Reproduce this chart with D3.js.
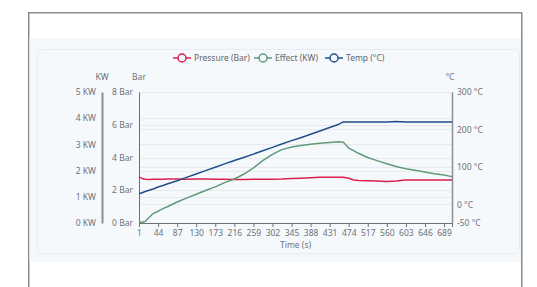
<!DOCTYPE html>
<html>
<head>
<meta charset="utf-8">
<script src="https://cdn.jsdelivr.net/npm/d3@7"></script>
<style>
  body { margin: 0; background: #fff; }
  svg { display: block; font-family: "Noto Sans", sans-serif; }
</style>
</head>
<body>
<svg id="chart" width="537" height="287"></svg>
<script>
const times = [1, 8, 15, 22, 33, 44, 55, 66, 87, 108, 130, 151, 173, 194, 216, 237, 259, 280, 302, 323,
  345, 366, 388, 409, 431, 452, 462, 474, 485, 496, 517, 538, 560, 581, 603, 624, 646, 667, 689, 707];
const pressure = [2.82, 2.72, 2.67, 2.66, 2.67, 2.67, 2.67, 2.68, 2.68, 2.67, 2.68, 2.68, 2.67, 2.67, 2.66, 2.66, 2.67, 2.67, 2.67, 2.68,
  2.71, 2.74, 2.77, 2.79, 2.79, 2.79, 2.79, 2.73, 2.63, 2.6, 2.58, 2.56, 2.54, 2.57, 2.62, 2.63, 2.63, 2.63, 2.63, 2.63];
const effect = [0.04, 0.03, 0.06, 0.18, 0.36, 0.45, 0.55, 0.63, 0.8, 0.95, 1.1, 1.24, 1.38, 1.54, 1.68, 1.86, 2.1, 2.38, 2.62, 2.8,
  2.9, 2.96, 3.01, 3.04, 3.07, 3.1, 3.08, 2.86, 2.76, 2.66, 2.5, 2.38, 2.26, 2.16, 2.07, 2.01, 1.95, 1.88, 1.83, 1.77];
const temp = [28, 31, 34, 37, 41, 46, 50, 55, 63, 72, 81, 90, 99, 108, 117, 125, 134, 143, 152, 161,
  170, 178, 187, 196, 205, 214, 220, 220, 220, 220, 220, 220, 220, 221, 220, 220, 220, 220, 220, 220];

const xLabels = [1, 44, 87, 130, 173, 216, 259, 302, 345, 388, 431, 474, 517, 560, 603, 646, 689];
const barTicks = [0, 2, 4, 6, 8];
const kwTicks = [0, 1, 2, 3, 4, 5];
const tempTicks = [-50, 0, 100, 200, 300];
const seriesNames = ["Pressure (Bar)", "Effect (KW)", "Temp (°C)"];
const seriesColors = ["#dc1f4e", "#5f9a78", "#1e4f8c"];

const svg = d3.select("#chart");
const plotLeft = 139, plotRight = 452, plotTop = 92, plotBottom = 223;

// frame and panels
svg.append("rect").attr("x", 28.75).attr("y", 12.75).attr("width", 493).attr("height", 290)
  .attr("fill", "#fff").attr("stroke", "#8a8a8a").attr("stroke-width", 1.5);
svg.append("rect").attr("x", 29.5).attr("y", 38).attr("width", 491.5).attr("height", 224).attr("fill", "#f5f8fb");
svg.append("rect").attr("x", 37.5).attr("y", 49.5).attr("width", 482).attr("height", 204).attr("rx", 5)
  .attr("fill", "#f6f9fc").attr("stroke", "#e8edf2");

const x = d3.scaleLinear().domain([1, 707]).range([plotLeft, plotRight]);
const yBar = d3.scaleLinear().domain([0, 8]).range([plotBottom, plotTop]);
const yKw = d3.scaleLinear().domain([0, 5]).range([plotBottom, plotTop]);
const yTemp = d3.scaleLinear().domain([-50, 300]).range([plotBottom, plotTop]);

// grid lines for all three axes
const grid = svg.append("g").attr("stroke", "#e6eaf0").attr("stroke-width", 1);
[[barTicks, yBar], [kwTicks, yKw], [tempTicks, yTemp]].forEach(([ticks, s]) => {
  grid.selectAll(null).data(ticks).enter().append("line")
    .attr("x1", plotLeft).attr("x2", plotRight)
    .attr("y1", d => Math.round(s(d)) + 0.5).attr("y2", d => Math.round(s(d)) + 0.5);
});

const labelColor = "#6e7079";
function styleAxis(g, color, width) {
  g.select(".domain").attr("stroke", color).attr("stroke-width", width);
  g.selectAll(".tick line").remove();
  g.selectAll("text").attr("fill", labelColor).style("font-size", "8.5px").style("font-family", "Noto Sans, sans-serif");
}

const axBar = svg.append("g").attr("transform", `translate(${plotLeft},0)`)
  .call(d3.axisLeft(yBar).tickValues(barTicks).tickFormat(d => d + " Bar").tickSize(0).tickPadding(6));
styleAxis(axBar, "#6e7079", 1);

const axKw = svg.append("g").attr("transform", `translate(102,0)`)
  .call(d3.axisLeft(yKw).tickValues(kwTicks).tickFormat(d => d + " KW").tickSize(0).tickPadding(6));
styleAxis(axKw, "#8a8d94", 2);

const axTemp = svg.append("g").attr("transform", `translate(${plotRight},0)`)
  .call(d3.axisRight(yTemp).tickValues(tempTicks).tickFormat(d => d + " °C").tickSize(0).tickPadding(5));
styleAxis(axTemp, "#8a8d94", 1.5);

const axX = svg.append("g").attr("transform", `translate(0,${plotBottom})`)
  .call(d3.axisBottom(x).tickValues(xLabels).tickFormat(d => d).tickSizeOuter(0).tickSize(4).tickPadding(3));
axX.select(".domain").attr("stroke", "#6e7079");
axX.selectAll(".tick line").attr("stroke", "#6e7079");
axX.selectAll("text").attr("fill", labelColor).style("font-size", "8.5px").style("font-family", "Noto Sans, sans-serif");

// axis names
const nameStyle = s => s.attr("fill", labelColor).style("font-size", "8.5px").attr("text-anchor", "middle");
svg.append("text").attr("x", 102).attr("y", 80).text("KW").call(nameStyle);
svg.append("text").attr("x", 139).attr("y", 80).text("Bar").call(nameStyle);
svg.append("text").attr("x", 450).attr("y", 80).text("°C").call(nameStyle);
svg.append("text").attr("x", (plotLeft + plotRight) / 2).attr("y", 248).text("Time (s)").call(nameStyle);

// lines
const series = [
  { values: pressure, scale: yBar },
  { values: effect, scale: yKw },
  { values: temp, scale: yTemp }
];
series.forEach((s, i) => {
  const line = d3.line().x((d, j) => x(times[j])).y(d => s.scale(d));
  svg.append("path").datum(s.values).attr("d", line)
    .attr("fill", "none").attr("stroke", seriesColors[i]).attr("stroke-width", 1.5)
    .attr("stroke-linejoin", "round");
});

// legend
const legendX = [182, 263, 334];
const legend = svg.append("g");
seriesNames.forEach((name, i) => {
  const g = legend.append("g").attr("transform", `translate(${legendX[i]},58)`);
  g.append("line").attr("x1", -9).attr("x2", 9).attr("stroke", seriesColors[i]).attr("stroke-width", 1.5);
  g.append("circle").attr("r", 4).attr("fill", "#f6f9fc").attr("stroke", seriesColors[i]).attr("stroke-width", 1.5);
  g.append("text").attr("x", 12).attr("y", 3).text(name)
    .attr("fill", "#666").style("font-size", "8.5px");
});
</script>
</body>
</html>
